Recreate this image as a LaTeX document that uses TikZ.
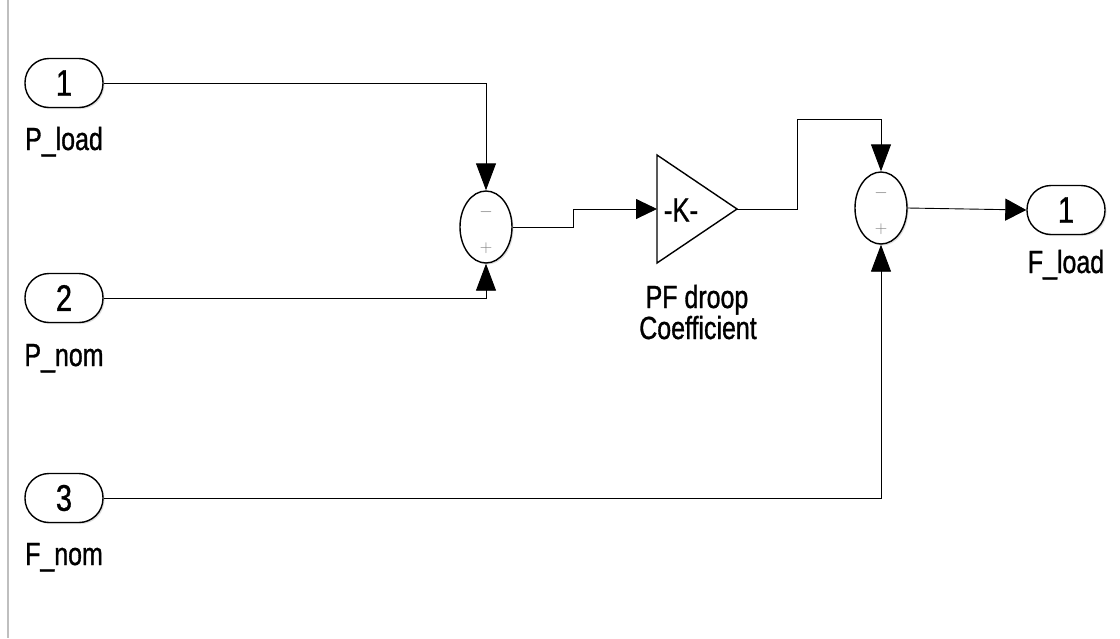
\documentclass[tikz,border=0pt]{standalone}
\usepackage{fontspec}
\setmainfont{Liberation Sans}[FakeStretch=0.78,FakeBold=1]
\usetikzlibrary{shapes.geometric,arrows.meta,shadows}
\begin{document}
\begin{tikzpicture}[x=1pt,y=-1pt,
  port/.style={draw,line width=1.4pt,rectangle,rounded corners=24pt,minimum width=78pt,minimum height=49pt,inner sep=0pt,
    font=\fontsize{37}{40}\selectfont,fill=white,
    drop shadow={opacity=0.25,shadow xshift=1.5pt,shadow yshift=-1.5pt}},
  lab/.style={font=\fontsize{32}{34}\selectfont,inner sep=0pt,anchor=base},
  sumblk/.style={draw,line width=1.4pt,ellipse,minimum width=52pt,minimum height=72pt,inner sep=0pt,fill=white,
    drop shadow={opacity=0.25,shadow xshift=1.5pt,shadow yshift=-1.5pt}},
  sgn/.style={text=gray,font=\fontsize{16}{16}\selectfont,inner sep=0pt},
  wire/.style={line width=0.9pt},
  inarr/.style={wire,-{Triangle[length=27pt,width=20pt]}},
  garr/.style={wire,-{Triangle[length=21pt,width=20pt]}},
  oarr/.style={wire,-{Triangle[length=21pt,width=22pt]}}
]
\useasboundingbox (0,0) rectangle (1120,638);
\fill[white] (0,0) rectangle (1120,638);
\draw[line width=1.5pt,color=black!25] (8,0) -- (8,638);

% inports
\node[port] (p1) at (64,83) {1};
\node[port] (p2) at (64,298) {2};
\node[port] (p3) at (64,498) {3};
\node[lab] (l1) at (64,150) {P\_load};
\node[lab] (l2) at (64,366) {P\_nom};
\node[lab] (l3) at (64,565) {F\_nom};

% sums
\node[sumblk] (s1) at (486,227) {};
\node[sgn] (s1m) at (486,212) {$-$};
\node[sgn] (s1p) at (486,248) {$+$};
\node[sumblk] (s2) at (881,208) {};
\node[sgn] (s2m) at (881,193) {$-$};
\node[sgn] (s2p) at (881,229) {$+$};

% gain
\draw[line width=1.4pt,fill=white] (657,155) -- (737,209) -- (657,263) -- cycle;
\coordinate (gin) at (657,209);
\coordinate (gout) at (737,209);
\node[font=\fontsize{33}{35}\selectfont,inner sep=0pt] (gk) at (681,210) {-K-};
\node[lab] (gl1) at (697,308) {PF droop};
\node[lab] (gl2) at (698,339) {Coefficient};

% outport
\node[port] (o1) at (1066,210) {1};
\node[lab] (lo) at (1066,273) {F\_load};

% wires
\draw[inarr] (p1.east) -| (s1.north);
\draw[inarr] (p2.east) -| (s1.south);
\coordinate (b1) at (573,209);
\draw[garr] (s1.east) -| (b1) -- (gin);
\coordinate (b2) at (797,119);
\draw[inarr] (gout) -| (b2) -| (s2.north);
\draw[inarr] (p3.east) -| (s2.south);
\draw[oarr] (s2.east) -- (o1.west);
\end{tikzpicture}
\end{document}
